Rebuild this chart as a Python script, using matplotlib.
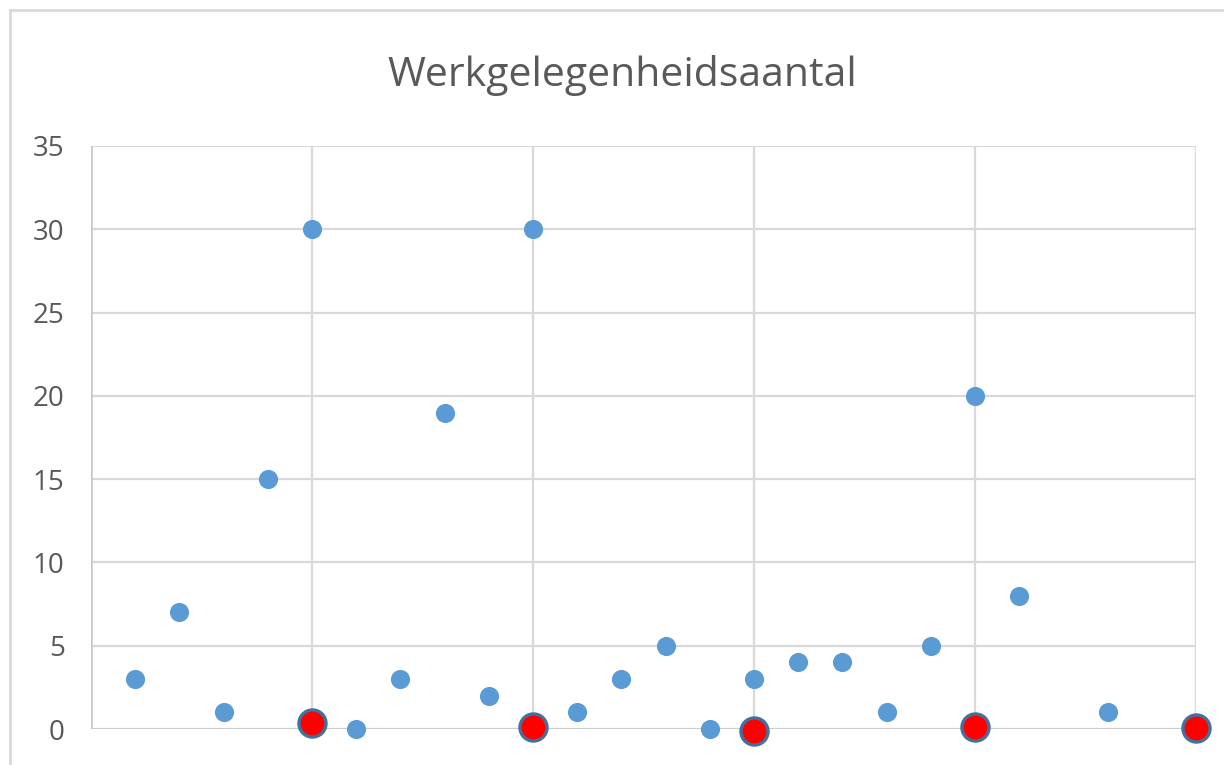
import matplotlib.pyplot as plt
from matplotlib.lines import Line2D

# blue series (positions 1..25)
x_blue = [1, 2, 3, 4, 5, 6, 7, 8, 9, 10, 11, 12, 13, 14, 15, 16, 17, 18, 19, 20, 21, 23]
y_blue = [3, 7, 1, 15, 30, 0, 3, 19, 2, 30, 1, 3, 5, 0, 3, 4, 4, 1, 5, 20, 8, 1]

# red series
x_red = [5, 10, 15, 20, 25]
y_red = [0.35, 0.1, -0.15, 0.1, 0.05]

title = "Werkgelegenheidsaantal"
yticks = [0, 5, 10, 15, 20, 25, 30, 35]
xticks = [0, 5, 10, 15, 20, 25]

plt.rcParams['font.family'] = ['Open Sans', 'DejaVu Sans']
grey = '#595959'

fig = plt.figure(figsize=(12.24, 7.65), dpi=100)
ax = fig.add_axes([91/1224, 1 - 729/765, (1196 - 91)/1224, (729 - 146)/765])

ax.scatter(x_blue, y_blue, s=190, color='#5b9bd5', zorder=3, linewidths=0, clip_on=False)
ax.scatter(x_red, y_red, s=380, color='#ff0000', edgecolors='#41719c', linewidths=2.4,
           zorder=4, clip_on=False)

ax.set_xlim(0, 25)
ax.set_ylim(0, 35)
ax.set_yticks(yticks)
ax.set_xticks(xticks)
ax.set_xticklabels([])
ax.grid(True, color='#d9d9d9', linewidth=1.6, zorder=0)
ax.set_axisbelow(True)
for side in ['top', 'right', 'bottom', 'left']:
    ax.spines[side].set_visible(False)
ax.axhline(0, color='#c8c8c8', linewidth=1.8, zorder=1)
ax.axvline(0, color='#c8c8c8', linewidth=1.8, zorder=1)
ax.tick_params(length=0, labelsize=20, labelcolor=grey, pad=19)

fig.text(622/1224, 1 - 75/765, title, ha='center', va='center', fontsize=29.5, color=grey)

# outer chart frame
fig.add_artist(Line2D([10/1224, 10/1224], [0, 1 - 10/765], color='#d9d9d9', linewidth=2, transform=fig.transFigure))
fig.add_artist(Line2D([10/1224, 1], [1 - 10/765, 1 - 10/765], color='#d9d9d9', linewidth=2, transform=fig.transFigure))

fig.savefig('out.png', dpi=100)
